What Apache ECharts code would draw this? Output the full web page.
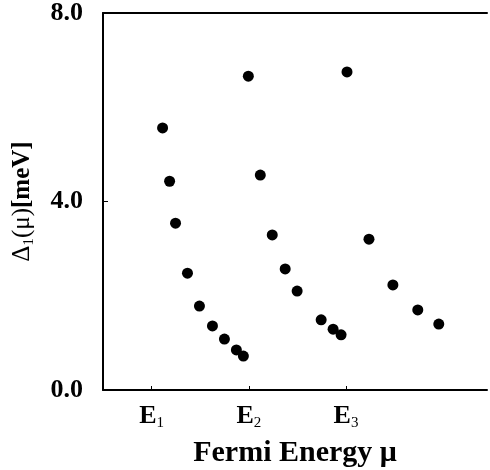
<!DOCTYPE html>
<html>
<head>
<meta charset="utf-8">
<script src="https://cdn.jsdelivr.net/npm/echarts@6/dist/echarts.min.js"></script>
<style>
  html, body { margin: 0; padding: 0; background: #fff; }
  #chart { width: 490px; height: 470px; }
</style>
</head>
<body>
<div id="chart"></div>
<script>
// x in units of the subband energies (E1 = 1, E2 = 2, E3 = 3)
const muValues = [1.113, 1.185, 1.246, 1.369, 1.492, 1.626, 1.749, 1.872, 1.944,
    1.995, 2.118, 2.241, 2.374, 2.497, 2.744, 2.867, 2.949,
    3.010, 3.236, 3.482, 3.738, 3.954];
const gapValues = [5.56, 4.43, 3.54, 2.48, 1.78, 1.36, 1.08, 0.85, 0.72,
    6.66, 4.56, 3.29, 2.57, 2.10, 1.49, 1.29, 1.17,
    6.75, 3.20, 2.23, 1.70, 1.40];
const xTickValues = [1, 2, 3];
const xTickSubs = ['1', '2', '3'];

const serif = '"Liberation Serif", "DejaVu Serif", serif';

const chart = echarts.init(document.getElementById('chart'));
chart.setOption({
    backgroundColor: '#fff',
    animation: false,
    grid: { left: 103, right: 3, top: 13, bottom: 80, outerBoundsMode: 'none', containLabel: false },
    xAxis: [{
        type: 'value',
        min: 0.5,
        max: 4.45,
        name: 'Fermi Energy μ',
        nameLocation: 'middle',
        nameGap: 48,
        nameTextStyle: { fontFamily: serif, fontWeight: 'bold', fontSize: 30, color: '#000' },
        axisLine: { lineStyle: { color: '#000', width: 2 } },
        axisTick: { inside: true, length: 4, lineStyle: { color: '#000', width: 1 }, customValues: xTickValues },
        axisLabel: {
            customValues: xTickValues,
            margin: 12,
            formatter: (v) => '{e|E}{s|' + xTickSubs[xTickValues.indexOf(v)] + '}',
            rich: {
                e: { fontFamily: serif, fontWeight: 'bold', fontSize: 26, color: '#000' },
                s: { fontFamily: serif, fontSize: 15, color: '#000', padding: [14, 0, 0, 0] }
            }
        },
        splitLine: { show: false }
    }, {
        type: 'value',
        position: 'top',
        min: 0.5,
        max: 4.45,
        axisLine: { show: true, lineStyle: { color: '#000', width: 2 } },
        axisTick: { show: false },
        axisLabel: { show: false },
        splitLine: { show: false }
    }],
    yAxis: {
        type: 'value',
        min: 0,
        max: 8,
        interval: 4,
        name: '{g|Δ}{s|1}{g|(μ)}{b|[meV]}',
        nameLocation: 'middle',
        nameGap: 66,
        nameRotate: 90,
        nameTextStyle: {
            rich: {
                g: { fontFamily: serif, fontSize: 25, color: '#000' },
                s: { fontFamily: serif, fontSize: 15, color: '#000', padding: [14, 0, 0, 0] },
                b: { fontFamily: serif, fontWeight: 'bold', fontSize: 25, color: '#000' }
            }
        },
        axisLine: { show: true, lineStyle: { color: '#000', width: 2 } },
        axisTick: { show: true, inside: true, length: 5, lineStyle: { color: '#000', width: 1 } },
        axisLabel: {
            margin: 20,
            fontFamily: serif,
            fontWeight: 'bold',
            fontSize: 26,
            color: '#000',
            formatter: (v) => v.toFixed(1)
        },
        splitLine: { show: false }
    },
    series: [{
        type: 'scatter',
        symbol: 'circle',
        symbolSize: 11,
        itemStyle: { color: '#000', opacity: 1 },
        data: muValues.map((x, i) => [x, gapValues[i]])
    }]
});
</script>
</body>
</html>
